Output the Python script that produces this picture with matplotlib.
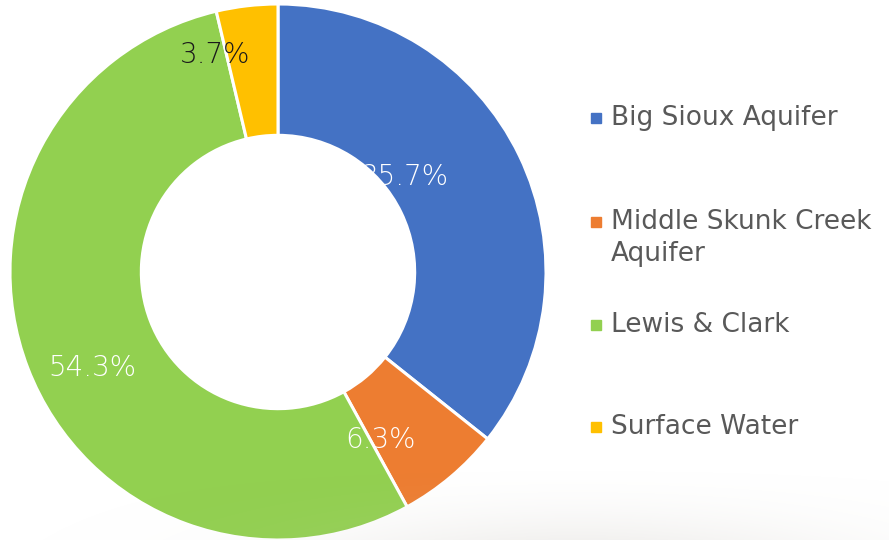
import matplotlib
matplotlib.use('Agg')
import matplotlib.pyplot as plt
from matplotlib.patches import Rectangle
import numpy as np

labels = ['Big Sioux Aquifer', 'Middle Skunk Creek\nAquifer', 'Lewis & Clark', 'Surface Water']
shares = [35.7, 6.3, 54.3, 3.7]
colors = ['#4472C4', '#ED7D31', '#92D050', '#FFC000']
pct_colors = ['white', 'white', 'white', '#1a1a1a']
# where PowerPoint put the percentage labels (in radius units)
pct_pos = [(0.474, 0.354), (0.381, -0.627), (-0.694, -0.358), (-0.235, 0.81)]
legend_y = [118, 222, 325, 427]  # pixel rows of legend entries

fig = plt.figure(figsize=(8.89, 5.40), dpi=100)
ax = fig.add_axes([10/889., 0.0, 536/889., 536/540.])

wedges, texts, autotexts = ax.pie(shares, colors=colors, startangle=90, counterclock=False,
                                  radius=1.0, autopct='%.1f%%',
                                  wedgeprops=dict(width=0.49, edgecolor='white', linewidth=2.2))
for t, c, p in zip(autotexts, pct_colors, pct_pos):
    t.set_color(c)
    t.set_position(p)
    t.set_fontsize(20)
    t.set_fontfamily('DejaVu Sans')
    t.set_fontweight('light')
ax.set_xlim(-1, 1)
ax.set_ylim(-1, 1)
ax.set_aspect('equal')
ax.axis('off')

for lab, c, y in zip(labels, colors, legend_y):
    yf = 1 - y/540.
    fig.add_artist(Rectangle((591/889., yf - 5/540.), 10/889., 10/540., color=c,
                             transform=fig.transFigure))
    lines = lab.split('\n')
    for k, ln in enumerate(lines):
        fig.text(611/889., yf - k*32/540., ln, fontsize=19, color='#595959',
                 family='DejaVu Sans', va='center', ha='left')

# faint grey shading along the bottom edge of the slide
sh = fig.add_axes([0, 0, 1, 80/540.], zorder=5)
yy = np.linspace(1, 0, 80)[:, None]
xx = np.linspace(0, 1, 889)[None, :]
alpha = np.clip(1 - yy, 0, 1)**2 * 0.22 * np.exp(-((xx - 0.65)/0.3)**2)
img = np.zeros((80, 889, 4))
img[..., 0] = 0.78
img[..., 1] = 0.76
img[..., 2] = 0.73
img[..., 3] = alpha
sh.imshow(img, aspect='auto', extent=(0, 1, 0, 1), origin='upper')
sh.axis('off')

fig.savefig('out.png', dpi=100)
